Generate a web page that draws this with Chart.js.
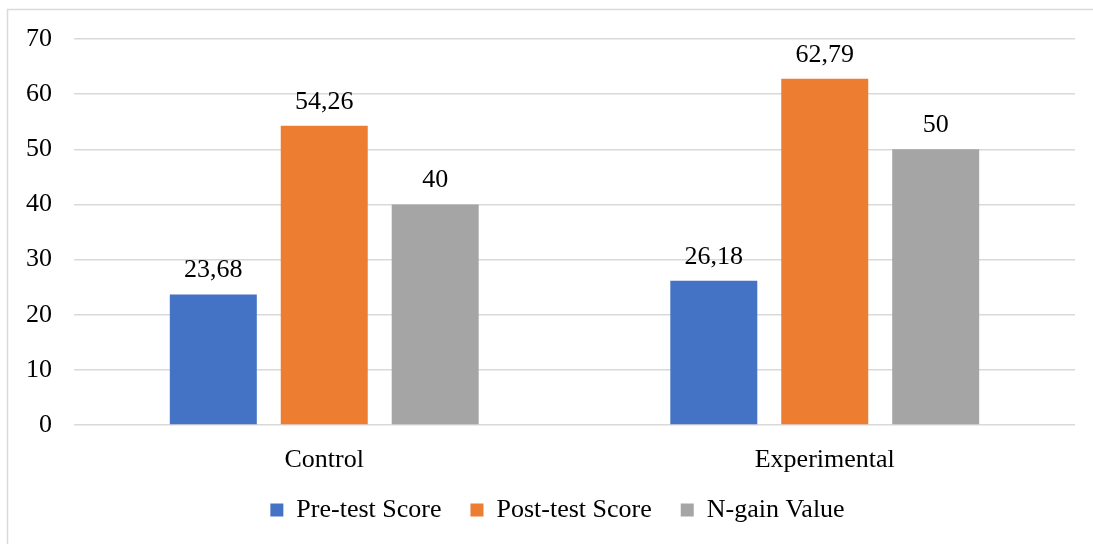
<!DOCTYPE html>
<html>
<head>
<meta charset="utf-8">
<script src="https://cdn.jsdelivr.net/npm/chart.js@4.4.1/dist/chart.umd.min.js"></script>
<style>
  html, body { margin: 0; padding: 0; background: #fff; }
  #wrap { position: relative; width: 1093px; height: 544px; }
</style>
</head>
<body>
<div id="wrap"><canvas id="chart" width="1093" height="544"></canvas></div>
<script>
// Scores by group
const categories = ['Control', 'Experimental'];
const preTest = [23.68, 26.18];
const postTest = [54.26, 62.79];
const nGain = [40, 50];
const seriesNames = ['Pre-test Score', 'Post-test Score', 'N-gain Value'];
const yTicks = [0, 10, 20, 30, 40, 50, 60, 70];

const FONT = 'Liberation Serif, Times New Roman, serif';

// Light frame around the chart, white background
const framePlugin = {
  id: 'frame',
  beforeDraw(chart) {
    const ctx = chart.ctx;
    ctx.save();
    ctx.fillStyle = '#fff';
    ctx.fillRect(0, 0, chart.width, chart.height);
    ctx.strokeStyle = '#d9d9d9';
    ctx.lineWidth = 1.5;
    ctx.strokeRect(7.5, 9.5, 2000, 2000);
    ctx.restore();
  }
};

// Nudge the legend so it sits centered under the frame
const legendShift = {
  id: 'legendShift',
  afterLayout(chart) {
    const lg = chart.legend;
    if (lg) {
      lg.left += 20;
      lg.right += 20;
      lg.top -= 11;
      lg.bottom -= 11;
    }
  }
};

// Value labels above each bar, decimal comma
const valueLabels = {
  id: 'valueLabels',
  afterDatasetsDraw(chart) {
    const ctx = chart.ctx;
    ctx.save();
    ctx.font = '26px ' + FONT;
    ctx.fillStyle = '#000';
    ctx.textAlign = 'center';
    ctx.textBaseline = 'alphabetic';
    chart.data.datasets.forEach((ds, di) => {
      chart.getDatasetMeta(di).data.forEach((bar, i) => {
        const txt = String(ds.data[i]).replace('.', ',');
        ctx.fillText(txt, bar.x, bar.y - 17);
      });
    });
    ctx.restore();
  }
};

new Chart(document.getElementById('chart'), {
  type: 'bar',
  data: {
    labels: categories,
    datasets: [
      { label: seriesNames[0], data: preTest, backgroundColor: '#4472C4' },
      { label: seriesNames[1], data: postTest, backgroundColor: '#ED7D31' },
      { label: seriesNames[2], data: nGain, backgroundColor: '#A5A5A5' }
    ]
  },
  options: {
    responsive: false,
    animation: false,
    devicePixelRatio: 1,
    categoryPercentage: 0.665,
    barPercentage: 0.784,
    layout: { padding: { top: 39, left: 0, right: 18, bottom: 0 } },
    plugins: {
      legend: {
        position: 'bottom',
        labels: {
          boxWidth: 13,
          boxHeight: 13,
          padding: 29,
          color: '#000',
          font: { family: FONT, size: 26 }
        }
      },
      tooltip: { enabled: false }
    },
    scales: {
      x: {
        grid: { display: false },
        border: { display: false },
        ticks: { color: '#000', font: { family: FONT, size: 26 }, padding: 12 },
        afterFit(scale) { scale.height = 54; }
      },
      y: {
        min: 0,
        max: 70,
        afterBuildTicks(scale) { scale.ticks = yTicks.map(v => ({ value: v })); },
        grid: { color: '#d9d9d9', lineWidth: 1.5, drawTicks: false },
        border: { display: false },
        ticks: { color: '#000', font: { family: FONT, size: 26 }, padding: 22 },
        afterFit(scale) { scale.width = 74; }
      }
    }
  },
  plugins: [framePlugin, legendShift, valueLabels]
});
</script>
</body>
</html>
